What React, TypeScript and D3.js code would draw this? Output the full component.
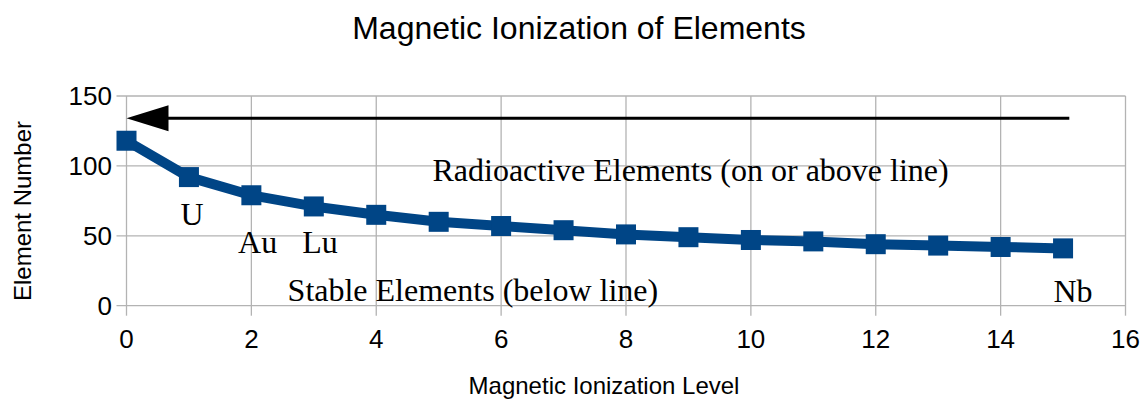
import React from "react";
import * as d3 from "d3";

const levels = [0, 1, 2, 3, 4, 5, 6, 7, 8, 9, 10, 11, 12, 13, 14, 15];
const elementNumbers = [118, 92, 79, 71, 65, 60, 57, 54, 51, 49, 47, 46, 44, 43, 42, 41];
const xTicks = [0, 2, 4, 6, 8, 10, 12, 14, 16];
const yTicks = [0, 50, 100, 150];
const arrowLine = { from: 15.1, to: 0, value: 134 };
const notes = [
  { text: "U", x: 1.05, y: 57.7, anchor: "middle" },
  { text: "Au", x: 2.1, y: 37.6, anchor: "middle" },
  { text: "Lu", x: 3.1, y: 37.6, anchor: "middle" },
  { text: "Nb", x: 15.16, y: 2.9, anchor: "middle" },
  { text: "Radioactive Elements (on or above line)", x: 4.9, y: 89.4, anchor: "start" },
  { text: "Stable Elements (below line)", x: 2.58, y: 3.6, anchor: "start" },
];

const W = 1144;
const H = 400;
const grid = "#b3b3b3";
const blue = "#004586";
const sans = "Liberation Sans, Arial, sans-serif";

export default function App() {
  const x = d3.scaleLinear().domain([0, 16]).range([126.5, 1125.5]);
  const y = d3.scaleLinear().domain([0, 150]).range([305.7, 96]);
  const pts = levels.map((l, i) => [l, elementNumbers[i]] as [number, number]);
  const line = d3
    .line<[number, number]>()
    .x((d) => x(d[0]))
    .y((d) => y(d[1]));

  const ay = y(arrowLine.value);
  const tip = x(arrowLine.to);

  return (
    <svg
      width={W}
      height={H}
      style={{ position: "absolute", left: 0, top: 0, background: "#fff" }}
    >
      <text x={579} y={39} textAnchor="middle" fontFamily={sans} fontSize={32}>
        Magnetic Ionization of Elements
      </text>

      {/* grid + ticks */}
      {xTicks.map((t) => (
        <line key={"gx" + t} x1={x(t)} x2={x(t)} y1={y(150)} y2={y(0) + 10} stroke={grid} strokeWidth={1.3} />
      ))}
      {yTicks.map((t) => (
        <line key={"gy" + t} x1={x(0) - 10} x2={x(16)} y1={y(t)} y2={y(t)} stroke={grid} strokeWidth={1.3} />
      ))}

      {xTicks.map((t) => (
        <text key={"tx" + t} x={x(t)} y={348} textAnchor="middle" fontFamily={sans} fontSize={26}>
          {t}
        </text>
      ))}
      {yTicks.map((t) => (
        <text key={"ty" + t} x={112} y={y(t) + 9} textAnchor="end" fontFamily={sans} fontSize={26}>
          {t}
        </text>
      ))}

      <text x={604} y={394} textAnchor="middle" fontFamily={sans} fontSize={24}>
        Magnetic Ionization Level
      </text>
      <text
        transform={`translate(30.5, 211) rotate(-90)`}
        textAnchor="middle"
        fontFamily={sans}
        fontSize={24}
      >
        Element Number
      </text>

      {/* arrow */}
      <line x1={x(arrowLine.from)} x2={tip + 30} y1={ay} y2={ay} stroke="#000" strokeWidth={3} />
      <path d={`M${tip},${ay} L${tip + 42},${ay - 13} L${tip + 42},${ay + 13} Z`} fill="#000" />

      {/* series */}
      <path d={line(pts) ?? ""} fill="none" stroke={blue} strokeWidth={10} strokeLinejoin="round" />
      {pts.map((d, i) => (
        <rect key={"m" + i} x={x(d[0]) - 10} y={y(d[1]) - 10} width={20} height={20} fill={blue} />
      ))}

      {notes.map((n) => (
        <text
          key={n.text}
          x={x(n.x)}
          y={y(n.y)}
          textAnchor={n.anchor}
          fontFamily="Liberation Serif, Times New Roman, serif"
          fontSize={32}
        >
          {n.text}
        </text>
      ))}
    </svg>
  );
}
